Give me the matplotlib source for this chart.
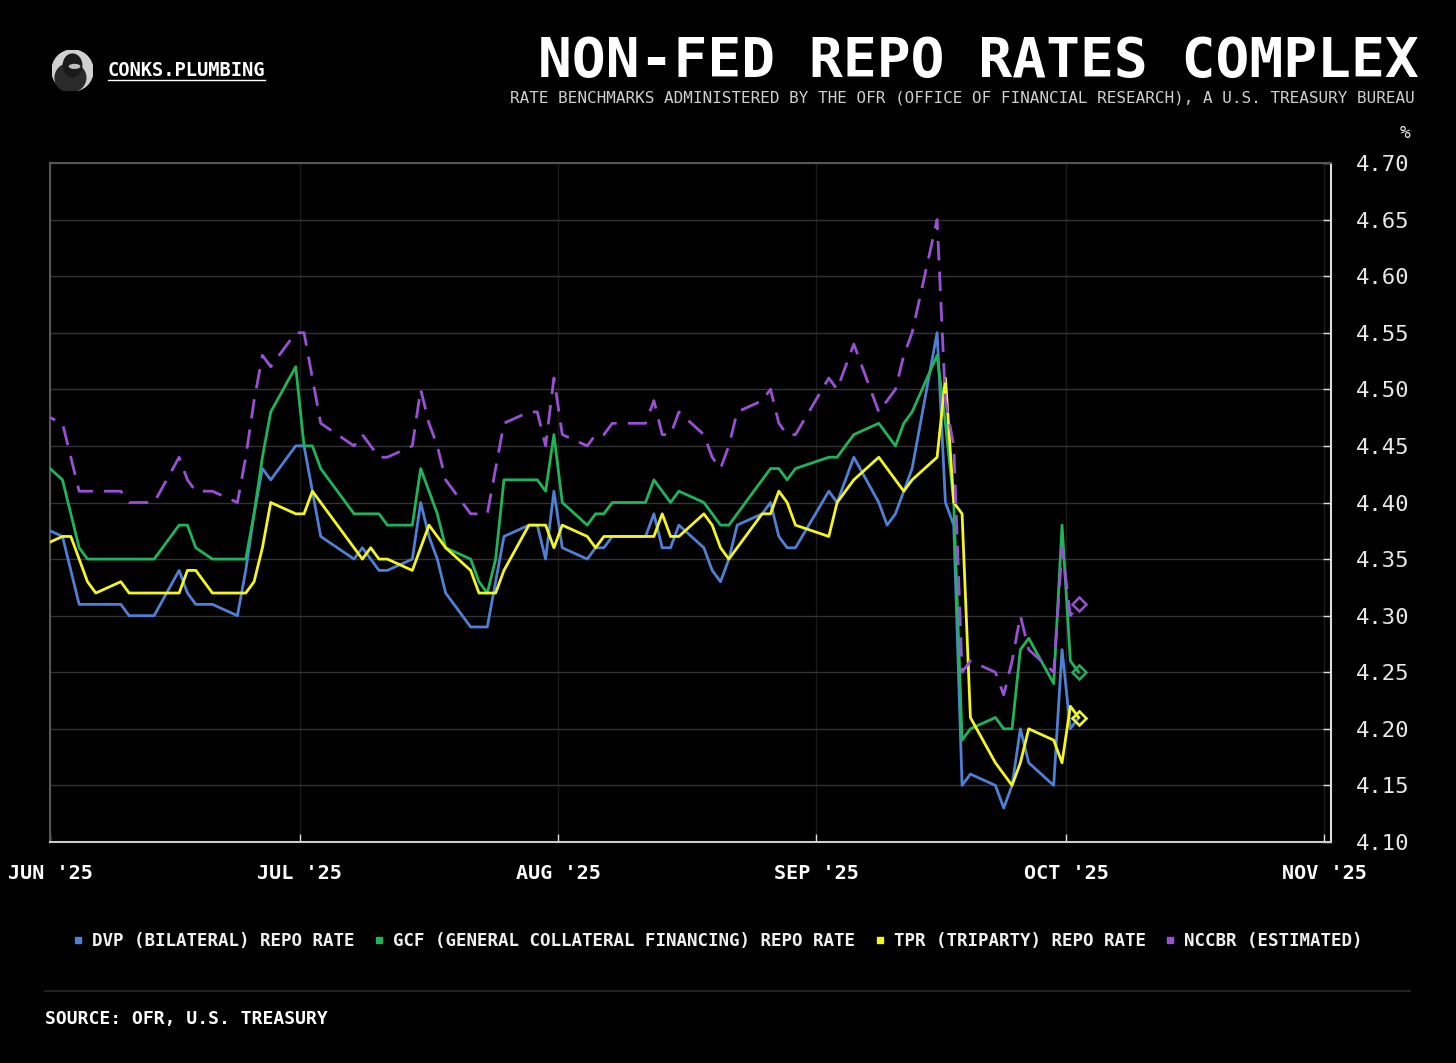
import numpy as np
import pandas as pd
import matplotlib
matplotlib.use('Agg')
import matplotlib.pyplot as plt
import matplotlib.dates as mdates
from matplotlib.lines import Line2D
from matplotlib.patches import Circle, Ellipse

# Data, business days May 30 - Oct 2 2025
dates = pd.bdate_range('2025-05-30', '2025-10-02')
dates = dates.drop(pd.to_datetime(['2025-06-19', '2025-07-04', '2025-09-01']))

dvp = [4.38,
       4.37, 4.34, 4.31, 4.31, 4.31, 4.31, 4.30, 4.30, 4.30, 4.30, 4.34, 4.32, 4.31, 4.31, 4.30, 4.34, 4.39, 4.43, 4.42, 4.45,
       4.45, 4.41, 4.37, 4.35, 4.36, 4.35, 4.34, 4.34, 4.35, 4.40, 4.37, 4.35, 4.32, 4.29, 4.29, 4.29, 4.33, 4.37, 4.38, 4.38, 4.35, 4.41,
       4.36, 4.35, 4.36, 4.36, 4.37, 4.37, 4.37, 4.39, 4.36, 4.36, 4.38, 4.36, 4.34, 4.33, 4.35, 4.38, 4.39, 4.40, 4.37, 4.36, 4.36,
       4.41, 4.40, 4.42, 4.44, 4.40, 4.38, 4.39, 4.41, 4.43, 4.55, 4.40, 4.38, 4.15, 4.16, 4.15, 4.13, 4.15, 4.20, 4.17, 4.15, 4.27,
       4.20, 4.21]
gcf = [4.44,
       4.42, 4.39, 4.36, 4.35, 4.35, 4.35, 4.35, 4.35, 4.35, 4.35, 4.38, 4.38, 4.36, 4.35, 4.35, 4.35, 4.39, 4.44, 4.48, 4.52,
       4.45, 4.45, 4.43, 4.39, 4.39, 4.39, 4.39, 4.38, 4.38, 4.43, 4.41, 4.39, 4.36, 4.35, 4.33, 4.32, 4.35, 4.42, 4.42, 4.42, 4.41, 4.46,
       4.40, 4.38, 4.39, 4.39, 4.40, 4.40, 4.40, 4.42, 4.41, 4.40, 4.41, 4.40, 4.39, 4.38, 4.38, 4.39, 4.42, 4.43, 4.43, 4.42, 4.43,
       4.44, 4.44, 4.45, 4.46, 4.47, 4.46, 4.45, 4.47, 4.48, 4.53, 4.47, 4.40, 4.19, 4.20, 4.21, 4.20, 4.20, 4.27, 4.28, 4.24, 4.38,
       4.26, 4.25]
tpr = [4.36,
       4.37, 4.37, 4.35, 4.33, 4.32, 4.33, 4.32, 4.32, 4.32, 4.32, 4.32, 4.34, 4.34, 4.32, 4.32, 4.32, 4.33, 4.36, 4.40, 4.39,
       4.39, 4.41, 4.40, 4.36, 4.35, 4.36, 4.35, 4.35, 4.34, 4.36, 4.38, 4.37, 4.36, 4.34, 4.32, 4.32, 4.32, 4.34, 4.38, 4.38, 4.38, 4.36,
       4.38, 4.37, 4.36, 4.37, 4.37, 4.37, 4.37, 4.37, 4.39, 4.37, 4.37, 4.39, 4.38, 4.36, 4.35, 4.36, 4.39, 4.39, 4.41, 4.40, 4.38,
       4.37, 4.40, 4.41, 4.42, 4.44, 4.43, 4.42, 4.41, 4.42, 4.44, 4.51, 4.40, 4.39, 4.21, 4.17, 4.16, 4.15, 4.17, 4.20, 4.19, 4.17,
       4.22, 4.21]
nccbr = [4.48,
         4.47, 4.44, 4.41, 4.41, 4.41, 4.41, 4.40, 4.40, 4.40, 4.40, 4.44, 4.42, 4.41, 4.41, 4.40, 4.44, 4.49, 4.53, 4.52, 4.55,
         4.55, 4.51, 4.47, 4.45, 4.46, 4.45, 4.44, 4.44, 4.45, 4.50, 4.47, 4.45, 4.42, 4.39, 4.39, 4.39, 4.43, 4.47, 4.48, 4.48, 4.45, 4.51,
         4.46, 4.45, 4.46, 4.46, 4.47, 4.47, 4.47, 4.49, 4.46, 4.46, 4.48, 4.46, 4.44, 4.43, 4.45, 4.48, 4.49, 4.50, 4.47, 4.46, 4.46,
         4.51, 4.50, 4.52, 4.54, 4.48, 4.49, 4.50, 4.53, 4.55, 4.65, 4.49, 4.45, 4.25, 4.26, 4.25, 4.23, 4.26, 4.30, 4.27, 4.25, 4.36,
         4.30, 4.31]

labels = ['DVP (BILATERAL) REPO RATE',
          'GCF (GENERAL COLLATERAL FINANCING) REPO RATE',
          'TPR (TRIPARTY) REPO RATE',
          'NCCBR (ESTIMATED)']
colors = ['#4f80d6', '#1fb45a', '#f5f520', '#9a4fd6']
yticks = np.arange(4.10, 4.701, 0.05)

MONO = 'DejaVu Sans Mono'
BG = '#000000'

fig = plt.figure(figsize=(14.56, 10.63), dpi=100, facecolor=BG)
ax = fig.add_axes([50 / 1456, 1 - 842 / 1063, (1331 - 50) / 1456, (842 - 163) / 1063])
ax.set_facecolor(BG)

x = dates + pd.Timedelta(hours=12)
series = [dvp, gcf, tpr, nccbr]
for vals, c, lab in zip(series, colors, labels):
    ls = '--' if lab.startswith('NCCBR') else '-'
    line, = ax.plot(x, vals, color=c, lw=2.0, ls=ls, zorder=3,
                    marker='D', markevery=[len(vals) - 1], markersize=7,
                    markerfacecolor='none', markeredgecolor=c, markeredgewidth=1.8)
    if ls == '--':
        line.set_dashes((7, 4))

ax.set_xlim(pd.Timestamp('2025-06-01'), pd.Timestamp('2025-11-01') + pd.Timedelta(hours=19))
ax.set_ylim(4.10, 4.70)

ax.xaxis.set_major_locator(mdates.MonthLocator())
ax.set_yticks(yticks)
ax.yaxis.set_major_formatter(plt.FuncFormatter(lambda v, p: f'{v:.2f}'))
ax.yaxis.tick_right()

ax.grid(axis='y', color='#333333', lw=1.0, zorder=0)
ax.grid(axis='x', color='#1a1a1a', lw=1.0, zorder=0)

ax.tick_params(axis='x', direction='in', length=6, width=1, color='#dddddd',
               pad=16, labelcolor='white')
ax.tick_params(axis='y', direction='in', length=6, width=1, color='#dddddd',
               pad=18, labelcolor='#e8e8e8')
ax.set_xticklabels([mdates.num2date(v).strftime("%b '%y").upper() for v in ax.get_xticks()],
                   fontfamily=MONO, fontweight='bold', fontsize=14.5)
for t in ax.get_xticklabels():
    t.set_x(t.get_position()[0])
for t in ax.get_yticklabels():
    t.set_fontfamily(MONO)
    t.set_fontsize(16)

for side, col in [('top', '#555555'), ('left', '#555555'), ('right', '#dddddd'), ('bottom', '#cccccc')]:
    ax.spines[side].set_color(col)
    ax.spines[side].set_linewidth(1.5)

# unit label
fig.text(1411 / 1456, 1 - 133 / 1063, '%', color='#e8e8e8', fontsize=13,
         fontfamily=MONO, ha='right', va='center')

# title block
fig.text(1419 / 1456, 1 - 61 / 1063, 'NON-FED REPO RATES COMPLEX', color='white',
         fontsize=40.5, fontweight='bold', fontfamily=MONO, ha='right', va='center')
fig.text(1415 / 1456, 1 - 98 / 1063,
         'RATE BENCHMARKS ADMINISTERED BY THE OFR (OFFICE OF FINANCIAL RESEARCH), A U.S. TREASURY BUREAU',
         color='#cfcfcf', fontsize=11.5, fontfamily=MONO, ha='right', va='center')

# logo
lax = fig.add_axes([52 / 1456, 1 - 91 / 1063, 41 / 1456, 41 / 1063])
lax.set_xlim(-1, 1)
lax.set_ylim(-1, 1)
lax.set_aspect('equal')
lax.axis('off')
lax.add_patch(Circle((0, 0), 1, color='#d0d0d0'))
lax.add_patch(Ellipse((-0.1, -0.35), 1.5, 1.4, color='#2a2a2a'))
lax.add_patch(Ellipse((0.0, 0.25), 0.9, 1.1, color='#1a1a1a'))
lax.add_patch(Ellipse((0.1, 0.2), 0.5, 0.18, color='#bdbdbd'))
fig.text(108 / 1456, 1 - 70 / 1063, 'CONKS.PLUMBING', color='white', fontsize=13.5,
         fontweight='bold', fontfamily=MONO, ha='left', va='center')
fig.add_artist(Line2D([108 / 1456, 265 / 1456], [1 - 80 / 1063] * 2, color='white', lw=1))

# legend
handles = [Line2D([], [], marker='s', ls='none', markersize=4.5, color=c) for c in colors]
fig.legend(handles, labels, loc='center', bbox_to_anchor=(718 / 1456, 1 - 941 / 1063),
           ncol=4, frameon=False, handlelength=0.6, handletextpad=0.5, columnspacing=1.1,
           prop={'family': MONO, 'weight': 'bold', 'size': 12.6}, labelcolor='#f0f0f0')

# footer
fig.add_artist(Line2D([45 / 1456, 1410 / 1456], [1 - 991 / 1063] * 2, color='#2a2a2a', lw=1.2))
fig.text(45 / 1456, 1 - 1019 / 1063, 'SOURCE: OFR, U.S. TREASURY', color='white', fontsize=13,
         fontweight='bold', fontfamily=MONO, ha='left', va='center')

fig.savefig('out.png', dpi=100, facecolor=BG)
